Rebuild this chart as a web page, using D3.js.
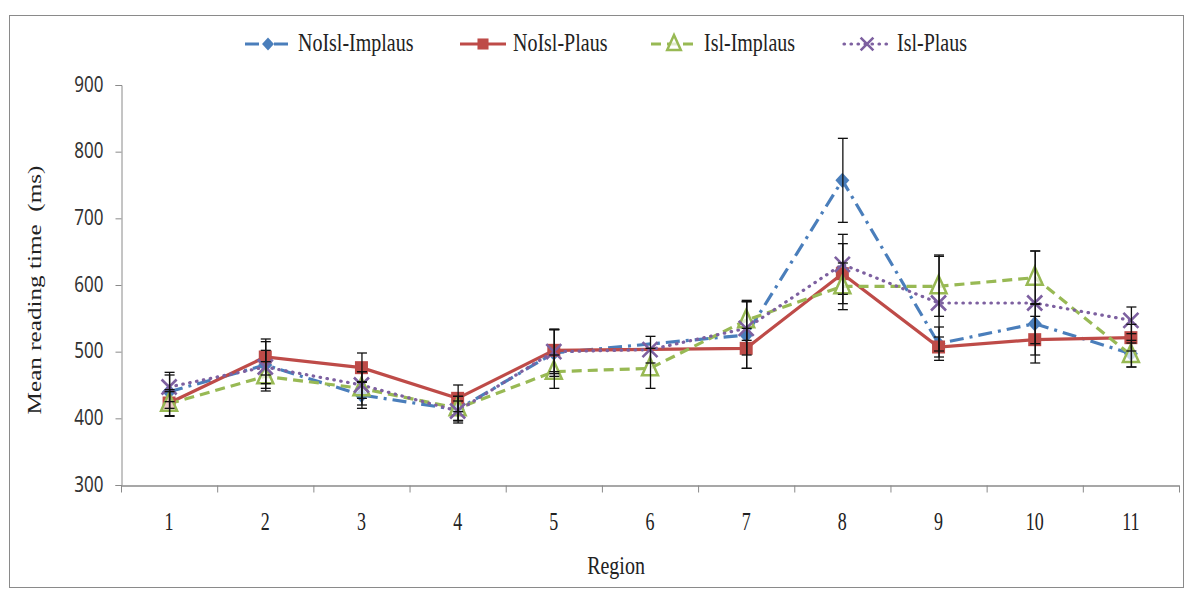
<!DOCTYPE html>
<html>
<head>
<meta charset="utf-8">
<script src="https://cdn.jsdelivr.net/npm/d3@7"></script>
<style>
  body { margin: 0; background: #fff; }
  svg { display: block; }
</style>
</head>
<body>
<svg id="chart"></svg>
<script>
// Data (ms); null = no value for that region
const regions = [1, 2, 3, 4, 5, 6, 7, 8, 9, 10, 11];
const noIslImplaus = [440, 480, 435, 413, 498, null, 525, 757, 512, 542, 497];
const noIslPlaus   = [423, 492, 476, 430, 502, null, 505, 617, 507, 518, 521];
const islImplaus   = [422, 463, 445, 415, 470, 475, 547, 598, 598, 611, 495];
const islPlaus     = [447, 477, 450, 411, 500, 503, 535, 631, 573, 573, 547];

// error bar half-lengths
const noIslImplausErr = [25, 35, 20, 20, 35, null, 50, 63, 25, 30, 20];
const noIslPlausErr   = [20, 27, 22, 20, 32, null, 30, 45, 15, 35, 20];
const islImplausErr   = [18, 22, 25, 18, 25, 30, 30, 35, 45, 40, 18];
const islPlausErr     = [22, 25, 20, 15, 33, 20, 40, 45, 72, 78, 20];

const yTicks = [300, 400, 500, 600, 700, 800, 900];

const series = [
  { name: "NoIsl-Implaus", values: noIslImplaus, err: noIslImplausErr, color: "#4a7ebb", dash: "14,6,3,6", marker: "diamond", legendX: 245 },
  { name: "NoIsl-Plaus",   values: noIslPlaus,   err: noIslPlausErr,   color: "#be4b48", dash: null,       marker: "square",  legendX: 460 },
  { name: "Isl-Implaus",   values: islImplaus,   err: islImplausErr,   color: "#98b954", dash: "10,6",     marker: "triangle", legendX: 651 },
  { name: "Isl-Plaus",     values: islPlaus,     err: islPlausErr,     color: "#7d60a0", dash: "0.5,6.5",  marker: "cross",   legendX: 844 }
];

const width = 1186, height = 590;
const svg = d3.select("#chart").attr("width", width).attr("height", height);

svg.append("rect")
    .attr("x", 9.5).attr("y", 15.5)
    .attr("width", 1174).attr("height", 572)
    .attr("fill", "#fff").attr("stroke", "#8a8a8a");

// Scales
const x = d3.scaleBand().domain(regions).range([121, 1179]);
const y = d3.scaleLinear().domain([300, 900]).range([485, 85]);
const cx = r => x(r) + x.bandwidth() / 2;

// Y axis
const yAxis = svg.append("g")
    .attr("transform", "translate(121.5,0)")
    .call(d3.axisLeft(y).tickValues(yTicks).tickSize(6).tickPadding(12));
yAxis.select(".domain").attr("stroke", "#8a8a8a");
yAxis.selectAll(".tick line").attr("stroke", "#8a8a8a");
yAxis.selectAll(".tick text")
    .attr("fill", "#333")
    .style("font-family", "'Noto Sans', sans-serif")
    .style("font-size", "17px")
    .attr("dy", null)
    .attr("y", 0)
    .attr("transform", "translate(0,6) scale(1,1.25)");

// X axis (ticks between categories)
const xAxis = svg.append("g")
    .attr("transform", "translate(0,485.5)")
    .call(d3.axisBottom(x).tickSize(0).tickPadding(0));
xAxis.select(".domain").attr("stroke", "#8a8a8a").attr("stroke-width", 1.5);
xAxis.selectAll(".tick text")
    .attr("fill", "#222")
    .style("font-family", "'Liberation Serif', serif")
    .style("font-size", "18px")
    .attr("dy", null)
    .attr("y", 0)
    .attr("transform", "translate(0,44) scale(1,1.4)");
xAxis.selectAll(".bound")
    .data(regions.concat([null]))
    .join("line")
    .attr("class", "bound")
    .attr("x1", (d, i) => (i < regions.length ? x(d) : x.range()[1]) + 0.5)
    .attr("x2", (d, i) => (i < regions.length ? x(d) : x.range()[1]) + 0.5)
    .attr("y1", 0).attr("y2", 7)
    .attr("stroke", "#8a8a8a");

// Axis titles
svg.append("text")
    .attr("transform", "translate(616,574) scale(1,1.3)")
    .attr("text-anchor", "middle")
    .style("font-family", "'Liberation Serif', serif")
    .style("font-size", "20px")
    .attr("fill", "#222")
    .text("Region");

svg.append("text")
    .attr("transform", "translate(41,290) rotate(-90) scale(1.4,1)")
    .attr("text-anchor", "middle")
    .style("font-family", "'Liberation Serif', serif")
    .style("font-size", "18px")
    .attr("fill", "#222")
    .style("white-space", "pre")
    .text("Mean reading time  (ms)");

// Marker drawing
function drawMarker(g, type, color, size) {
  if (type === "diamond") {
    const s = size / 2;
    g.append("path")
        .attr("d", `M0,${-s * 1.1}L${s},0L0,${s * 1.1}L${-s},0Z`)
        .attr("fill", color);
  } else if (type === "square") {
    g.append("rect")
        .attr("x", -size / 2).attr("y", -size / 2)
        .attr("width", size).attr("height", size)
        .attr("fill", color);
  } else if (type === "triangle") {
    const h = size * 1.1;
    g.append("path")
        .attr("d", `M0,${-h * 0.6}L${size / 2},${h * 0.4}L${-size / 2},${h * 0.4}Z`)
        .attr("fill", "rgba(255,255,255,0.7)")
        .attr("stroke", color).attr("stroke-width", 2.5);
  } else {
    const s = size / 2;
    g.append("path")
        .attr("d", `M${-s},${-s}L${s},${s}M${-s},${s}L${s},${-s}`)
        .attr("stroke", color).attr("stroke-width", 2.6);
  }
}

const markerSize = { diamond: 14, square: 13, triangle: 16, cross: 15 };

const line = d3.line()
    .defined(d => d.v !== null)
    .x(d => cx(d.r))
    .y(d => y(d.v));

series.forEach(s => {
  s.points = regions.map((r, i) => ({ r, v: s.values[i], e: s.err[i] }));
  const pts = s.points.filter(d => d.v !== null);
  svg.append("path")
      .datum(pts)
      .attr("d", line)
      .attr("fill", "none")
      .attr("stroke", s.color)
      .attr("stroke-width", 3.2)
      .attr("stroke-linecap", s.marker === "cross" ? "round" : "butt")
      .attr("stroke-dasharray", s.dash);
});

series.forEach(s => {
  s.points.filter(d => d.v !== null).forEach(d => {
    const g = svg.append("g").attr("transform", `translate(${cx(d.r)},${y(d.v)})`);
    drawMarker(g, s.marker, s.color, markerSize[s.marker]);
  });
});

// Error bars on top
series.forEach(s => {
  s.points.filter(d => d.v !== null).forEach(d => {
    const px = cx(d.r) + 0.5;
    const yt = y(d.v + d.e), yb = y(d.v - d.e);
    svg.append("line").attr("x1", px).attr("x2", px).attr("y1", yt).attr("y2", yb)
        .attr("stroke", "#111").attr("stroke-width", 1.3);
    [yt, yb].forEach(yy => {
      svg.append("line").attr("x1", px - 5).attr("x2", px + 5).attr("y1", yy).attr("y2", yy)
          .attr("stroke", "#111").attr("stroke-width", 1.3);
    });
  });
});

// Legend
const legend = svg.append("g").attr("transform", "translate(0,44)");
series.forEach(s => {
  const lg = legend.append("g").attr("transform", `translate(${s.legendX},0)`);
  lg.append("line")
      .attr("x1", 0).attr("x2", 46)
      .attr("stroke", s.color).attr("stroke-width", 3.2)
      .attr("stroke-linecap", s.marker === "cross" ? "round" : "butt")
      .attr("stroke-dasharray", s.dash);
  const m = lg.append("g").attr("transform", "translate(23,0)");
  drawMarker(m, s.marker, s.color, markerSize[s.marker] * 0.85);
  lg.append("text")
      .attr("transform", "translate(53,7) scale(1,1.3)")
      .style("font-family", "'Liberation Serif', serif")
      .style("font-size", "20px")
      .attr("fill", "#222")
      .text(s.name);
});
</script>
</body>
</html>
